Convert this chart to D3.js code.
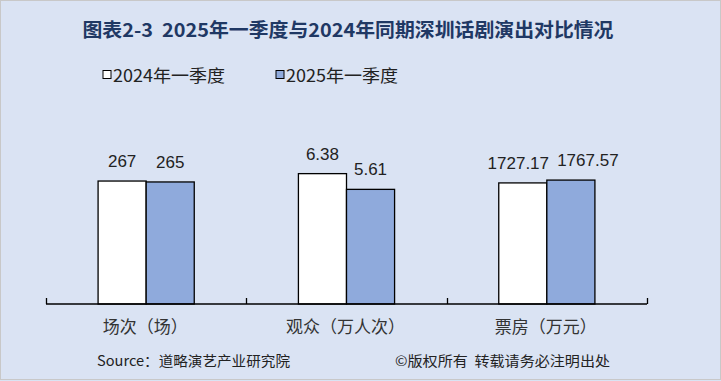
<!DOCTYPE html>
<html>
<head>
<meta charset="utf-8">
<script src="https://cdn.jsdelivr.net/npm/d3@7"></script>
<style>
  html, body { margin: 0; padding: 0; background: #dae3f3; }
  svg { display: block; }
  text { white-space: pre; }
</style>
</head>
<body>
<svg id="chart" width="721" height="381"></svg>
<script>
const title = "图表2-3\u00a0\u00a02025年一季度与2024年同期深圳话剧演出对比情况";
const categories = ["场次（场）", "观众（万人次）", "票房（万元）"];
const seriesNames = ["2024年一季度", "2025年一季度"];
const values2024 = [267, 6.38, 1727.17];
const values2025 = [265, 5.61, 1767.57];
const labels2024 = ["267", "6.38", "1727.17"];
const labels2025 = ["265", "5.61", "1767.57"];
const sourceText = "Source：道略演艺产业研究院";
const copyrightText = "©版权所有\u00a0\u00a0转载请务必注明出处";

const W = 721, H = 381;
const svg = d3.select("#chart");
const colors = ["#ffffff", "#8faadc"];
const cjk = "'Noto Sans CJK SC', 'Noto Sans', sans-serif";
const num = "'Liberation Sans', Arial, sans-serif";

svg.append("rect").attr("x", 0.5).attr("y", 0.5).attr("width", W - 1).attr("height", H - 2)
  .attr("fill", "#dae3f3").attr("stroke", "#c8c8c8");

// title
svg.append("text").attr("x", 82.5).attr("y", 37)
  .attr("font-family", cjk).attr("font-weight", "bold").attr("font-size", 19)
  .attr("fill", "#1f3864").attr("textLength", 531).attr("lengthAdjust", "spacingAndGlyphs")
  .text(title);

// legend
const legendX = [103, 276];
seriesNames.forEach((s, i) => {
  svg.append("rect").attr("x", legendX[i]).attr("y", 70.5).attr("width", 8).attr("height", 8)
    .attr("fill", colors[i]).attr("stroke", "#000").attr("stroke-width", 1);
  svg.append("text").attr("x", legendX[i] + 10).attr("y", 81.5)
    .attr("font-family", cjk).attr("font-size", 17).attr("fill", "#222")
    .attr("textLength", 112).attr("lengthAdjust", "spacingAndGlyphs")
    .text(s);
});

// data normalised within each category (each category has its own unit)
const rows = categories.map((c, i) => {
  const mean = (values2024[i] + values2025[i]) / 2;
  return {
    cat: c,
    vals: [
      { s: seriesNames[0], v: values2024[i], n: values2024[i] / mean, label: labels2024[i] },
      { s: seriesNames[1], v: values2025[i], n: values2025[i] / mean, label: labels2025[i] }
    ]
  };
});

// label nudges (layout only) to keep wide labels apart, as in the reference
const labelNudge = [[0, 0], [0, 0], [-4.5, 17]];

const baseY = 304;
const x0 = d3.scaleBand().domain(categories).range([46, 647]).paddingInner(0).paddingOuter(0);
const groupW = x0.bandwidth() * 0.48;
const x1 = d3.scaleBand().domain(seriesNames).range([0, groupW]);
const y = d3.scaleLinear().domain([0, 2]).range([baseY, baseY - 245]);

const g = svg.append("g");
rows.forEach((r, ci) => {
  const gx = x0(r.cat) + (x0.bandwidth() - groupW) / 2;
  r.vals.forEach((d, i) => {
    g.append("rect")
      .attr("x", gx + x1(d.s)).attr("y", y(d.n))
      .attr("width", x1.bandwidth()).attr("height", baseY - y(d.n))
      .attr("fill", colors[i]).attr("stroke", "#000").attr("stroke-width", 1.3);
    g.append("text")
      .attr("x", gx + x1(d.s) + x1.bandwidth() / 2 + labelNudge[ci][i]).attr("y", y(d.n) - 14)
      .attr("text-anchor", "middle").attr("font-family", num).attr("font-size", 17)
      .attr("fill", "#222").text(d.label);
  });
  g.append("text")
    .attr("x", x0(r.cat) + x0.bandwidth() / 2 - 1).attr("y", 333)
    .attr("text-anchor", "middle").attr("font-family", cjk).attr("font-size", 17)
    .attr("fill", "#333").text(r.cat);
});

// axis line and inner ticks
const axis = d3.axisBottom(x0).tickSize(0).tickFormat("");
const ag = svg.append("g").attr("transform", `translate(0,${baseY})`).call(axis);
ag.select(".domain").attr("stroke", "#000").attr("stroke-width", 1.3).attr("d", "M46,0H647");
const tickXs = categories.map(c => x0(c)).concat([x0.range()[1]]);
ag.selectAll(".edge").data(tickXs).enter().append("line").attr("class", "edge")
  .attr("x1", d => Math.round(d) + 0.5).attr("x2", d => Math.round(d) + 0.5)
  .attr("y1", 0).attr("y2", -6).attr("stroke", "#000").attr("stroke-width", 1.3);

// footer
svg.append("text").attr("x", 97).attr("y", 366)
  .attr("font-family", cjk).attr("font-size", 14).attr("fill", "#222")
  .attr("textLength", 193).attr("lengthAdjust", "spacingAndGlyphs").text(sourceText);
svg.append("text").attr("x", 395).attr("y", 366)
  .attr("font-family", cjk).attr("font-size", 14).attr("fill", "#222")
  .attr("textLength", 215).attr("lengthAdjust", "spacingAndGlyphs").text(copyrightText);
</script>
</body>
</html>
